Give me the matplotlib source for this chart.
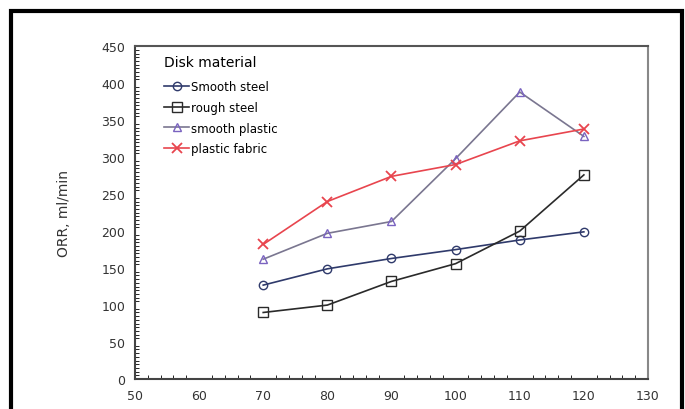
import numpy as np
import matplotlib.pyplot as plt
from matplotlib.patches import Rectangle
from matplotlib.ticker import MultipleLocator

speed = [70, 80, 90, 100, 110, 120]
smooth_steel = [127, 149, 163, 175, 188, 199]
rough_steel = [90, 100, 132, 156, 200, 276]
smooth_plastic = [162, 197, 213, 298, 388, 328]
plastic_fabric = [182, 240, 274, 290, 322, 338]

fig = plt.figure(figsize=(6.85, 4.10), dpi=100)
ax = fig.add_axes([0.197, 0.073, 0.749, 0.812])

ax.plot(speed, smooth_steel, '-o', color='#2f3a6b', mfc='none', ms=6, lw=1.2,
        label='Smooth steel')
ax.plot(speed, rough_steel, '-s', color='#2a2a2a', mfc='none', ms=7, lw=1.2,
        label='rough steel')
ax.plot(speed, smooth_plastic, '-^', color='#7a7690', mec='#7a63c0', mfc='none',
        ms=6, lw=1.2, label='smooth plastic')
ax.plot(speed, plastic_fabric, '-x', color='#e8454e', ms=7, mew=1.3, lw=1.2,
        label='plastic fabric')

ax.set_xlim(50, 130)
ax.set_ylim(0, 450)
ax.xaxis.set_major_locator(MultipleLocator(10))
ax.xaxis.set_minor_locator(MultipleLocator(2))
ax.yaxis.set_major_locator(MultipleLocator(50))
ax.yaxis.set_minor_locator(MultipleLocator(5))
ax.tick_params(which='both', direction='in', labelsize=9, labelcolor='#333333')
ax.tick_params(which='major', length=0, pad=7)
ax.tick_params(which='minor', length=3)
ax.tick_params(axis='x', which='minor', top=False)
ax.tick_params(axis='y', which='minor', right=False)

ax.spines['top'].set_color('#555555')
ax.spines['right'].set_color('#888888')
for s in ['left', 'bottom']:
    ax.spines[s].set_color('#444444')
for s in ax.spines:
    ax.spines[s].set_linewidth(1.5)

ax.set_ylabel('ORR, ml/min', fontsize=10, color='#333333', labelpad=22)

leg = ax.legend(title='Disk material', loc='upper left', frameon=False,
                fontsize=8.5, title_fontsize=10, handlelength=2.2,
                handletextpad=0.1, labelspacing=0.65,
                bbox_to_anchor=(0.035, 1.005))
leg._legend_box.align = 'left'
leg._legend_box.sep = 8

fig.patches.append(Rectangle((0.016, -0.05), 0.98, 1.02, transform=fig.transFigure,
                             fill=False, edgecolor='black', lw=3, clip_on=False))

fig.savefig('out.png', dpi=100)
